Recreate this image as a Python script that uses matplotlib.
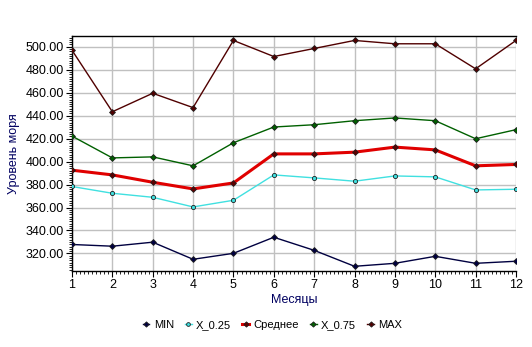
import matplotlib
matplotlib.use('Agg')
import matplotlib.pyplot as plt
from matplotlib.ticker import MultipleLocator, FormatStrFormatter

plt.rcParams['font.family'] = ['Liberation Sans', 'DejaVu Sans']

months = [1, 2, 3, 4, 5, 6, 7, 8, 9, 10, 11, 12]
v_min = [327.8, 326.3, 329.8, 314.9, 320.1, 334.1, 322.7, 308.8, 311.4, 317.5, 311.4, 313.2]
v_q25 = [378.3, 372.4, 368.9, 360.5, 366.3, 388.4, 385.8, 382.9, 387.5, 386.7, 375.3, 375.9]
v_mean = [392.5, 388.4, 382.0, 376.2, 381.4, 406.7, 406.7, 408.2, 412.6, 410.2, 396.3, 397.5]
v_q75 = [422.2, 403.2, 404.1, 396.3, 416.4, 430.1, 432.1, 435.6, 438.0, 435.6, 419.9, 427.8]
v_max = [497.0, 443.4, 459.5, 447.0, 505.5, 491.5, 498.5, 505.5, 502.6, 502.6, 480.8, 505.5]

fig = plt.figure(figsize=(5.32, 3.47), dpi=100)
ax = fig.add_axes([0.1353, 0.219, 0.8346, 0.678])

# series: values, colour, line width, marker, marker face
series = [
    ('MIN', v_min, '#000040', 1.0, 'D', '#000040'),
    ('X_0.25', v_q25, '#40E0E0', 1.0, 'o', '#40E0E0'),
    ('Среднее', v_mean, '#E00000', 2.2, 'D', '#600000'),
    ('X_0.75', v_q75, '#006000', 1.0, 'D', '#006000'),
    ('MAX', v_max, '#500000', 1.0, 'D', '#500000'),
]
for name, vals, col, lw, mk, mfc in series:
    ax.plot(months, vals, color=col, lw=lw, label=name, marker=mk, markersize=3,
            markerfacecolor=mfc, markeredgecolor='#202020', markeredgewidth=0.6, zorder=3)

ax.set_xlim(1, 12)
ax.set_ylim(304.7, 509.6)
ax.xaxis.set_major_locator(MultipleLocator(1))
ax.xaxis.set_minor_locator(MultipleLocator(0.1))
ax.yaxis.set_major_locator(MultipleLocator(20))
ax.yaxis.set_minor_locator(MultipleLocator(2))
ax.yaxis.set_major_formatter(FormatStrFormatter('%.2f'))
ax.tick_params(which='major', length=4, width=0.8, labelsize=9, pad=2)
ax.tick_params(which='minor', length=2, width=0.6)
ax.grid(True, which='major', color='#c0c0c0', lw=1.0, zorder=0)

for side in ['left', 'top', 'bottom']:
    ax.spines[side].set_color('black')
    ax.spines[side].set_linewidth(1.0)
ax.spines['right'].set_visible(False)

ax.set_xlabel('Месяцы', color='#000060', fontsize=9, labelpad=2)
ax.set_ylabel('Уровень моря', color='#000060', fontsize=9, labelpad=4)

fig.legend(loc='center', bbox_to_anchor=(0.512, 0.064), ncol=5, frameon=False,
           fontsize=8, handlelength=0.6, handletextpad=0.4, columnspacing=1.0,
           markerscale=0.9)

fig.savefig('out.png', dpi=100)
